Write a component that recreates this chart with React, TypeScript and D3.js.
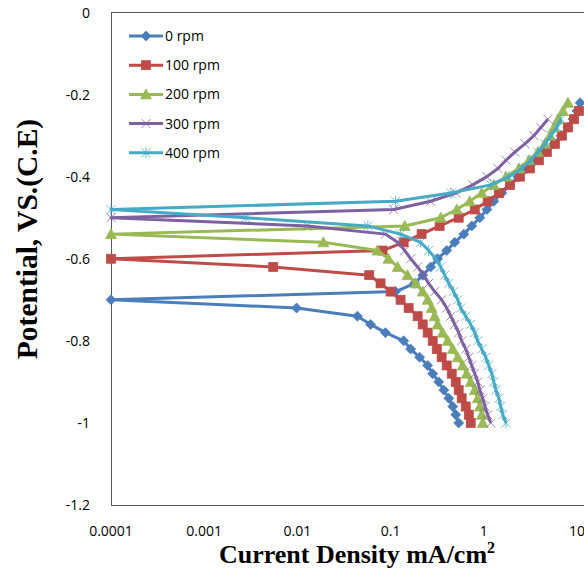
import React from "react";
import * as d3 from "d3";

// Shared potential column (V vs C.E), ascending
const potentials = [
  -1.0, -0.98, -0.96, -0.94, -0.92, -0.9, -0.88, -0.86, -0.84, -0.82,
  -0.8, -0.78, -0.76, -0.74, -0.72, -0.7, -0.68, -0.66, -0.64, -0.62,
  -0.6, -0.58, -0.56, -0.54, -0.52, -0.5, -0.48, -0.46, -0.44, -0.42,
  -0.4, -0.38, -0.36, -0.34, -0.32, -0.3, -0.28, -0.26, -0.24, -0.22,
];

// Current densities (mA/cm2) for each rotation speed, aligned with potentials
const current0rpm = [
  0.538, 0.5, 0.465, 0.421, 0.372, 0.328, 0.283, 0.25, 0.205, 0.164,
  0.138, 0.088, 0.061, 0.044, 0.0098, 0.0001, 0.113, 0.181, 0.221, 0.269,
  0.32, 0.4, 0.488, 0.61, 0.743, 0.906, 1.08, 1.28, 1.56, 1.91,
  2.32, 2.9, 3.53, 4.42, 5.66, 6.73, 8.0, 9.06, 10.0, 10.8,
];
const current100rpm = [
  0.724, 0.69, 0.64, 0.579, 0.538, 0.5, 0.453, 0.4, 0.353, 0.313,
  0.283, 0.25, 0.221, 0.195, 0.156, 0.128, 0.1, 0.078, 0.059, 0.0055,
  0.0001, 0.082, 0.138, 0.215, 0.336, 0.538, 0.8, 1.1, 1.45, 1.91,
  2.44, 3.12, 3.9, 4.75, 5.8, 6.9, 8.0, 9.3, 10.5, null,
];
const current200rpm = [
  0.975, 0.951, 0.906, 0.861, 0.8, 0.724, 0.656, 0.594, 0.525, 0.465,
  0.41, 0.362, 0.32, 0.297, 0.276, 0.25, 0.221, 0.186, 0.152, 0.119,
  0.095, 0.072, 0.019, 0.0001, 0.142, 0.345, 0.513, 0.706, 0.951, 1.28,
  1.73, 2.38, 3.05, 3.81, 4.53, 5.13, 5.66, 6.25, 7.06, 8.0,
];
const current300rpm = [
  1.19, 1.1, 1.03, 0.975, 0.906, 0.861, 0.8, 0.743, 0.69, 0.64,
  0.579, 0.538, 0.488, 0.442, 0.4, 0.353, 0.297, 0.256, 0.226, 0.195,
  0.164, 0.142, 0.119, 0.088, 0.0128, 0.0001, 0.108, 0.269, 0.5, 0.762,
  1.08, 1.42, 1.73, 2.15, 2.76, 3.45, 4.1, 4.87, null, null,
];
const current400rpm = [
  1.73, 1.6, 1.52, 1.45, 1.35, 1.28, 1.22, 1.13, 1.05, 0.951,
  0.861, 0.8, 0.724, 0.64, 0.566, 0.525, 0.475, 0.421, 0.381, 0.345,
  0.305, 0.256, 0.21, 0.128, 0.057, 0.0028, 0.0001, 0.113, 0.442, 1.19,
  1.86, 2.56, 3.2, 3.81, 4.53, 5.25, 6.1, 6.73, null, null,
];

const seriesNames = ["0 rpm", "100 rpm", "200 rpm", "300 rpm", "400 rpm"];
const seriesCurrents = [current0rpm, current100rpm, current200rpm, current300rpm, current400rpm];
const seriesColors = ["#4A7EBB", "#BE4B48", "#98B954", "#7D60A0", "#46AAC5"];
const seriesMarkers = ["diamond", "square", "triangle", "x", "star"];

const xTicks = [0.0001, 0.001, 0.01, 0.1, 1, 10];
const xTickLabels = ["0.0001", "0.001", "0.01", "0.1", "1", "10"];
const yTicks = [0, -0.2, -0.4, -0.6, -0.8, -1, -1.2];
const yTickLabels = ["0", "-0.2", "-0.4", "-0.6", "-0.8", "-1", "-1.2"];

const W = 584;
const H = 577;

function Marker({ kind, cx, cy, color }: { kind: string; cx: number; cy: number; color: string }) {
  if (kind === "diamond") {
    const r = 5;
    return <path d={`M${cx},${cy - r}L${cx + r},${cy}L${cx},${cy + r}L${cx - r},${cy}Z`} fill={color} stroke={color} strokeWidth={0.75} />;
  }
  if (kind === "square") {
    const r = 4.5;
    return <rect x={cx - r} y={cy - r} width={2 * r} height={2 * r} fill={color} stroke={color} strokeWidth={0.75} />;
  }
  if (kind === "triangle") {
    return <path d={`M${cx},${cy - 5.5}L${cx + 5.5},${cy + 4.5}L${cx - 5.5},${cy + 4.5}Z`} fill={color} stroke={color} strokeWidth={0.75} />;
  }
  if (kind === "x") {
    const r = 4.5;
    return <path d={`M${cx - r},${cy - r}L${cx + r},${cy + r}M${cx + r},${cy - r}L${cx - r},${cy + r}`} fill="none" stroke={color} strokeWidth={1} opacity={0.75} />;
  }
  const r = 4.5;
  return (
    <path
      d={`M${cx - r},${cy - r}L${cx + r},${cy + r}M${cx + r},${cy - r}L${cx - r},${cy + r}M${cx},${cy - 5.5}L${cx},${cy + 5.5}`}
      fill="none"
      stroke={color}
      strokeWidth={1}
      opacity={0.75}
    />
  );
}

export default function App() {
  const x = d3.scaleLog().domain([1e-4, 10]).range([111, 577]);
  const y = d3.scaleLinear().domain([-1.2, 0]).range([505, 12.5]);

  const series = seriesNames.map((name, i) => {
    const pts = potentials
      .map((e, j) => ({ e, c: seriesCurrents[i][j] }))
      .filter((p) => p.c !== null && p.c !== undefined) as { e: number; c: number }[];
    return { name, pts, color: seriesColors[i], marker: seriesMarkers[i] };
  });

  const line = d3
    .line<{ e: number; c: number }>()
    .x((d) => x(d.c))
    .y((d) => y(d.e));

  const tickFont = "'Open Sans', 'Liberation Sans', sans-serif";
  const legendTop = 36;
  const legendStep = 29.2;

  return (
    <svg width={W} height={H} style={{ position: "absolute", left: 0, top: 0, background: "#fff" }}>
      <rect x={0} y={0} width={W} height={H} fill="#fff" />
      {/* plot frame */}
      <line x1={111} x2={W} y1={12.5} y2={12.5} stroke="#595959" strokeWidth={1} />
      <line x1={111.5} x2={111.5} y1={12.5} y2={505.5} stroke="#595959" strokeWidth={1} />
      <line x1={111} x2={W} y1={505.5} y2={505.5} stroke="#595959" strokeWidth={1} />

      {/* y tick labels */}
      {yTicks.map((t, i) => (
        <text key={"y" + i} x={90} y={y(t) + 5} textAnchor="end" fontFamily={tickFont} fontSize={14} fill="#000">
          {yTickLabels[i]}
        </text>
      ))}
      {/* x tick labels */}
      {xTicks.map((t, i) => (
        <text key={"x" + i} x={x(t)} y={536} textAnchor="middle" fontFamily={tickFont} fontSize={14} fill="#000">
          {xTickLabels[i]}
        </text>
      ))}

      {/* series */}
      {series.map((s) => (
        <g key={s.name}>
          <path d={line(s.pts) || ""} fill="none" stroke={s.color} strokeWidth={3} strokeLinejoin="round" />
          {s.pts.map((p, j) => (
            <Marker key={j} kind={s.marker} cx={x(p.c)} cy={y(p.e)} color={s.color} />
          ))}
        </g>
      ))}

      {/* legend */}
      {series.map((s, i) => {
        const ly = legendTop + i * legendStep;
        return (
          <g key={"lg" + i}>
            <line x1={129} x2={163} y1={ly} y2={ly} stroke={s.color} strokeWidth={3} />
            <Marker kind={s.marker} cx={146} cy={ly} color={s.color} />
            <text x={165} y={ly + 5} fontFamily={tickFont} fontSize={14} fill="#000">
              {s.name}
            </text>
          </g>
        );
      })}

      {/* axis titles */}
      <text
        x={357}
        y={563}
        textAnchor="middle"
        fontFamily="'Liberation Serif', 'Times New Roman', serif"
        fontWeight="bold"
        fontSize={26}
        fill="#000"
      >
        Current Density mA/cm<tspan fontSize={16} dy={-10}>2</tspan>
      </text>
      <text
        transform="translate(37,239) rotate(-90)"
        textAnchor="middle"
        fontFamily="'Liberation Serif', 'Times New Roman', serif"
        fontWeight="bold"
        fontSize={29.5}
        fill="#000"
      >
        Potential, VS.(C.E)
      </text>
    </svg>
  );
}
